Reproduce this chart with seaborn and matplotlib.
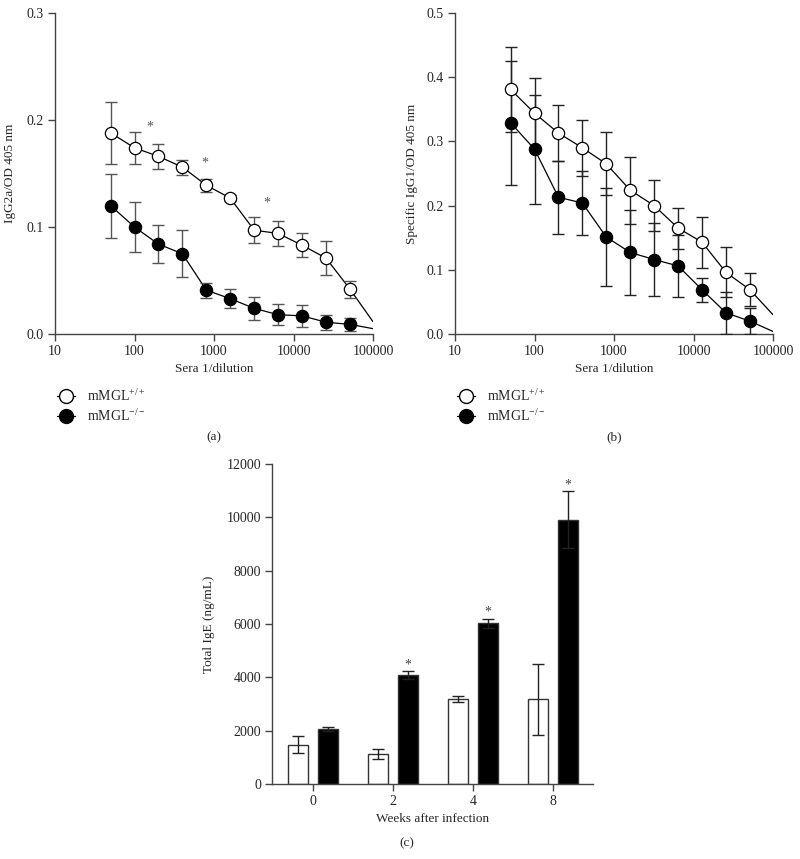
import numpy as np
import pandas as pd
import matplotlib
matplotlib.use("Agg")
import matplotlib.pyplot as plt
from matplotlib.lines import Line2D
from matplotlib.ticker import FixedLocator, NullLocator, FuncFormatter
import seaborn as sns

# ---------------- data ----------------
dilutions = [50, 100, 200, 400, 800, 1600, 3200, 6400, 12800, 25600, 51200]
line_end_x = 100000

a_wt = [0.188, 0.174, 0.166, 0.156, 0.139, 0.127, 0.097, 0.094, 0.083, 0.071, 0.042]
a_wt_err = [0.029, 0.015, 0.012, 0.007, 0.006, 0.003, 0.012, 0.012, 0.011, 0.016, 0.008]
a_ko = [0.120, 0.100, 0.084, 0.075, 0.041, 0.033, 0.024, 0.018, 0.017, 0.011, 0.009]
a_ko_err = [0.030, 0.023, 0.018, 0.022, 0.007, 0.009, 0.011, 0.010, 0.010, 0.007, 0.006]
a_wt_end = 0.0115
a_ko_end = 0.005

b_wt = [0.381, 0.344, 0.313, 0.290, 0.265, 0.224, 0.200, 0.165, 0.143, 0.096, 0.069]
b_wt_err = [0.066, 0.055, 0.043, 0.044, 0.049, 0.052, 0.040, 0.032, 0.040, 0.039, 0.026]
b_ko = [0.329, 0.288, 0.213, 0.204, 0.151, 0.127, 0.116, 0.106, 0.069, 0.033, 0.020]
b_ko_err = [0.097, 0.085, 0.057, 0.050, 0.076, 0.066, 0.057, 0.048, 0.019, 0.033, 0.020]
b_wt_end = 0.030
b_ko_end = 0.004

a_sig_x = [156, 762, 4570]
a_sig_y = [0.193, 0.160, 0.122]

weeks = ["0", "2", "4", "8"]
c_wt = [1480, 1130, 3190, 3170]
c_wt_err = [310, 190, 110, 1340]
c_ko = [2050, 4080, 6030, 9910]
c_ko_err = [70, 140, 170, 1060]
c_sig = [False, True, True, True]

x_ticks = [10, 100, 1000, 10000, 100000]
legend_labels = ["mMGL$^{+/+}$", "mMGL$^{-/-}$"]

# ---------------- style ----------------
sns.set_style("ticks")
plt.rcParams["font.family"] = ["Liberation Serif", "DejaVu Serif"]
plt.rcParams["mathtext.fontset"] = "custom"
plt.rcParams["mathtext.rm"] = "Liberation Serif"
plt.rcParams["mathtext.it"] = "Liberation Serif:italic"
plt.rcParams["axes.unicode_minus"] = True

SPINE = "#444444"
TICK_FS = 10
LAB_FS = 9.5

fig = plt.figure(figsize=(8, 8.59), dpi=100)
W, H = 800, 859


def add_ax(x0, x1, ytop, ybot):
    return fig.add_axes([x0 / W, (H - ybot) / H, (x1 - x0) / W, (ybot - ytop) / H])


ax_a = add_ax(55, 373, 13, 334)
ax_b = add_ax(455, 773, 13, 334)
ax_c = add_ax(272, 593, 464, 784)


def style_axis(ax):
    sns.despine(ax=ax)
    for s in ["left", "bottom"]:
        ax.spines[s].set_color(SPINE)
        ax.spines[s].set_linewidth(1.0)
    ax.tick_params(axis="both", direction="out", length=5, width=1.0,
                   color=SPINE, labelsize=TICK_FS, pad=3)


def dilution_panel(ax, wt, wt_err, ko, ko_err, wt_end, ko_end, ymax, yticks, ylabel, errc):
    for vals, end in [(wt, wt_end), (ko, ko_end)]:
        df_line = pd.DataFrame({"x": dilutions + [line_end_x], "y": vals + [end]})
        sns.lineplot(data=df_line, x="x", y="y", ax=ax, color="black", lw=0.9,
                     zorder=2, clip_on=True)
    for vals, err in [(wt, wt_err), (ko, ko_err)]:
        ax.errorbar(dilutions, vals, yerr=err, fmt="none", ecolor=errc,
                    elinewidth=1.0, capsize=4.2, capthick=1.0, zorder=3)
    df_wt = pd.DataFrame({"x": dilutions, "y": wt})
    df_ko = pd.DataFrame({"x": dilutions, "y": ko})
    sns.scatterplot(data=df_wt, x="x", y="y", ax=ax, marker="o", s=78,
                    facecolor="white", edgecolor="black", linewidth=0.9, zorder=4)
    sns.scatterplot(data=df_ko, x="x", y="y", ax=ax, marker="o", s=78,
                    facecolor="black", edgecolor="black", linewidth=0.9, zorder=5)
    ax.set_xscale("log")
    ax.set_xlim(10, 100000)
    ax.set_ylim(0, ymax)
    ax.xaxis.set_major_locator(FixedLocator(x_ticks))
    ax.xaxis.set_minor_locator(NullLocator())
    ax.xaxis.set_major_formatter(FuncFormatter(lambda v, p: f"{int(round(v))}"))
    ax.set_yticks(yticks)
    ax.yaxis.set_major_formatter(FuncFormatter(lambda v, p: f"{v:.1f}"))
    ax.set_xlabel("Sera 1/dilution", fontsize=LAB_FS)
    ax.set_ylabel(ylabel, fontsize=LAB_FS)
    ax.xaxis.set_label_coords(0.5, -(363 - 334) / 321)
    ax.xaxis.label.set_va("top")
    style_axis(ax)
    handles = [
        Line2D([], [], color="black", lw=0.9, marker="o", ms=10, mfc="white", mec="black"),
        Line2D([], [], color="black", lw=0.9, marker="o", ms=10, mfc="black", mec="black"),
    ]
    ax.legend(handles, legend_labels, loc="upper left", bbox_to_anchor=(-0.01, -0.15),
              frameon=False, fontsize=10, handlelength=1.3, handletextpad=0.8,
              labelspacing=0.3, borderaxespad=0)


dilution_panel(ax_a, a_wt, a_wt_err, a_ko, a_ko_err, a_wt_end, a_ko_end,
               0.3, [0.0, 0.1, 0.2, 0.3], "IgG2a/OD 405 nm", "#555555")
ax_a.yaxis.set_label_coords((16 - 55) / 318, 0.5)
for sx, sy in zip(a_sig_x, a_sig_y):
    ax_a.text(sx, sy, "*", ha="center", va="center", fontsize=10, color="#555555")

dilution_panel(ax_b, b_wt, b_wt_err, b_ko, b_ko_err, b_wt_end, b_ko_end,
               0.5, [0.0, 0.1, 0.2, 0.3, 0.4, 0.5], "Specific IgG1/OD 405 nm", "#222222")
ax_b.yaxis.set_label_coords((418 - 455) / 318, 0.5)

# ---------------- panel c ----------------
df_c = pd.DataFrame({
    "week": weeks * 2,
    "value": c_wt + c_ko,
    "genotype": ["wt"] * 4 + ["ko"] * 4,
})
sns.barplot(data=df_c, x="week", y="value", hue="genotype", order=weeks,
            hue_order=["wt", "ko"], palette={"wt": "white", "ko": "black"},
            width=0.75, gap=0.333, errorbar=None, edgecolor="#333333",
            linewidth=1.0, legend=False, ax=ax_c)
err_map = {"wt": c_wt_err, "ko": c_ko_err}
val_map = {"wt": c_wt, "ko": c_ko}
for p in ax_c.patches:
    cx = p.get_x() + p.get_width() / 2
    idx = int(round(cx))
    g = "wt" if cx < idx else "ko"
    v = val_map[g][idx]
    e = err_map[g][idx]
    ax_c.errorbar([cx], [v], yerr=[e], fmt="none", ecolor="#222222",
                  elinewidth=1.0, capsize=4.2, capthick=1.0, zorder=3)
    if g == "ko" and c_sig[idx]:
        ax_c.annotate("*", (cx, v + e), xytext=(0, 0), textcoords="offset points",
                      ha="center", va="bottom", fontsize=10, color="#444444")
ax_c.set_xlim(-0.51, 3.5)
ax_c.set_ylim(0, 12000)
ax_c.set_yticks(range(0, 12001, 2000))
ax_c.set_xlabel("Weeks after infection", fontsize=LAB_FS)
ax_c.set_ylabel("Total IgE (ng/mL)", fontsize=LAB_FS)
ax_c.xaxis.set_label_coords(0.5, -(813 - 784) / 320)
ax_c.xaxis.label.set_va("top")
ax_c.yaxis.set_label_coords((215 - 272) / 321, 0.5)
style_axis(ax_c)

# panel letters
fig.text(214 / W, 1 - 437 / H, "(a)", ha="center", va="center", fontsize=LAB_FS)
fig.text(614 / W, 1 - 437 / H, "(b)", ha="center", va="center", fontsize=LAB_FS)
fig.text(407 / W, 1 - 843 / H, "(c)", ha="center", va="center", fontsize=LAB_FS)

fig.savefig("out.png", dpi=100, facecolor="white")
